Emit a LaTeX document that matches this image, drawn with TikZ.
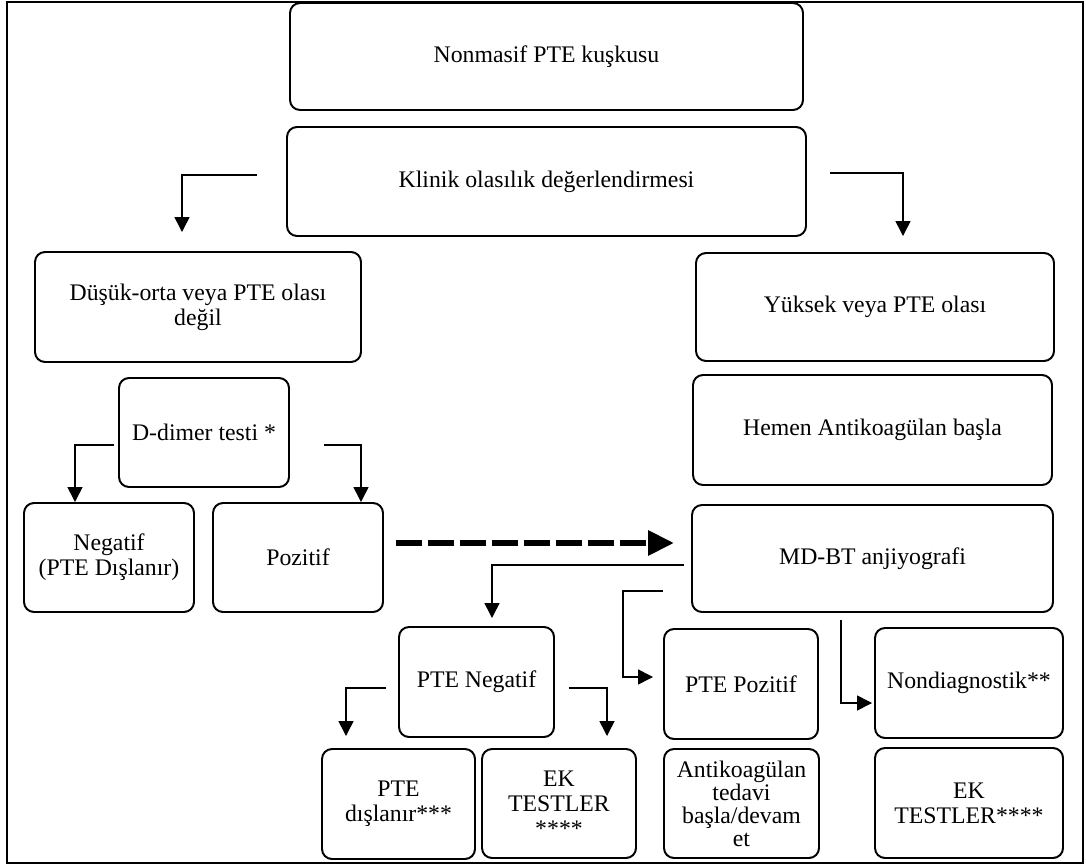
\documentclass[tikz,border=0pt]{standalone}
\usepackage{fontspec}
\setmainfont{Liberation Serif}
\usepackage{tikz}
\usetikzlibrary{arrows.meta, positioning, calc}
\tikzstyle{block} = [rectangle, rounded corners=0.25cm, draw=black, line width=1.4pt, align=center, inner sep=1mm]
\tikzstyle{arrow} = [line width=1.1pt, -{Triangle[width=0.375cm,length=0.375cm]}]
\tikzstyle{dasharrow} = [line width=4.4pt, dash pattern=on 0.64cm off 0.16cm, -{Triangle[width=0.6cm,length=0.65cm]}]

\begin{document}
\begin{tikzpicture}[every node/.style={font=\fontsize{16.9}{17.8}\selectfont}]
  \useasboundingbox (0,0) rectangle (27.15,-21.625);
  % Çerçeve
  \draw[line width=2pt] (0.175,-0.05) rectangle (27.075,-21.575);

  % Üst
  \node[block, minimum width=12.825cm, minimum height=2.675cm] (suphe) at (13.6625,-1.4125) {Nonmasif PTE kuşkusu};
  \node[block, minimum width=12.975cm, minimum height=2.725cm] (klinik) at (13.6625,-4.5375) {Klinik olasılık değerlendirmesi};

  % Sol kol
  \node[block, minimum width=8.15cm, minimum height=2.75cm] (dusuk) at (4.95,-7.675) {Düşük-orta veya PTE olası\\değil};
  \node[block, minimum width=4.25cm, minimum height=2.725cm] (ddimer) at (5.1,-10.8125) {D-dimer testi *};
  \node[block, minimum width=4.25cm, minimum height=2.725cm] (negatif) at (2.725,-13.9375) {Negatif\\(PTE Dışlanır)};
  \node[block, minimum width=4.25cm, minimum height=2.725cm] (pozitif) at (7.45,-13.9375) {Pozitif};

  % Sağ kol
  \node[block, minimum width=8.95cm, minimum height=2.7cm] (yuksek) at (21.875,-7.675) {Yüksek veya PTE olası};
  \node[block, minimum width=8.975cm, minimum height=2.75cm] (hemen) at (21.8125,-10.75) {Hemen Antikoagülan başla};
  \node[block, minimum width=9.025cm, minimum height=2.675cm] (mdbt) at (21.8125,-13.9625) {MD-BT anjiyografi};

  % BT sonuçları
  \node[block, minimum width=3.875cm, minimum height=2.75cm] (pteneg) at (11.9125,-17.05) {PTE Negatif};
  \node[block, minimum width=3.85cm, minimum height=2.75cm] (ptepoz) at (18.525,-17.1) {PTE Pozitif};
  \node[block, minimum width=4.7cm, minimum height=2.75cm] (nondiag) at (24.225,-17.075) {Nondiagnostik**};

  % Alt sıra
  \node[block, minimum width=3.825cm, minimum height=2.75cm] (dislanir) at (9.9625,-20.1) {PTE\\dışlanır***};
  \node[block, minimum width=3.85cm, minimum height=2.725cm] (ektest) at (13.975,-20.0875) {EK\\TESTLER\\****};
  \node[block, minimum width=3.875cm, minimum height=2.725cm, inner sep=0.5mm, font=\fontsize{16.9}{16.3}\selectfont] (antiko) at (18.5375,-20.0875) {Antikoagülan\\tedavi\\başla/devam\\et};
  \node[block, minimum width=4.7cm, minimum height=2.75cm] (ektestb) at (24.225,-20.075) {EK\\TESTLER****};

  % Oklar
  \draw[arrow] ([xshift=-0.725cm,yshift=0.1625cm]klinik.west) -| ([xshift=-0.4cm,yshift=0.475cm]dusuk.north);
  \draw[arrow] ([xshift=0.575cm,yshift=0.2125cm]klinik.east) -| ([xshift=0.7cm,yshift=0.4cm]yuksek.north);

  \draw[arrow] ([xshift=-0.1cm,yshift=-0.3125cm]ddimer.west) -| ([xshift=-0.85cm]negatif.north);
  \draw[arrow] ([xshift=0.85cm,yshift=-0.3125cm]ddimer.east) -| ([xshift=1.575cm]pozitif.north);

  % Pozitif -> BT (kesikli)
  \draw[dasharrow] ([xshift=0.3cm,yshift=0.3625cm]pozitif.east) -- ([xshift=-0.425cm,yshift=0.3875cm]mdbt.west);

  \draw[arrow] ([xshift=-0.175cm,yshift=-0.1625cm]mdbt.west) -| ([xshift=0.3875cm,yshift=0.2cm]pteneg.north);
  \draw[arrow] ([xshift=-0.7cm,yshift=-0.8125cm]mdbt.west) -- ++(-1cm,0) |- ([xshift=-0.25cm,yshift=0.175cm]ptepoz.west);
  \draw[arrow] ([xshift=-0.7875cm,yshift=-0.175cm]mdbt.south) |- ([xshift=-0.05cm,yshift=-0.5cm]nondiag.west);

  \draw[arrow] ([xshift=-0.3cm,yshift=-0.15cm]pteneg.west) -| ([xshift=-1.3125cm,yshift=0.3cm]dislanir.north);
  \draw[arrow] ([xshift=0.35cm,yshift=-0.15cm]pteneg.east) -| ([xshift=1.2cm,yshift=0.3cm]ektest.north);
\end{tikzpicture}
\end{document}
